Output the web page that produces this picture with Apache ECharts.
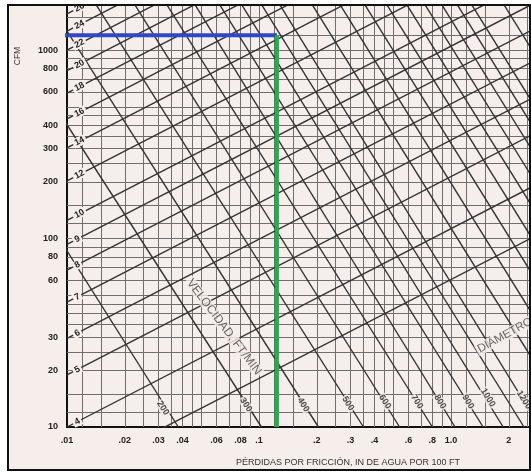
<!DOCTYPE html>
<html><head><meta charset="utf-8">
<script src="https://cdn.jsdelivr.net/npm/echarts@6/dist/echarts.min.js"></script>
<style>html,body{margin:0;padding:0;background:#fff}#c{width:531px;height:472px}</style>
</head><body><div id="c"></div>
<script>
// ---- axis ticks / labels ----
const xTickValues = [0.01,0.02,0.03,0.04,0.06,0.08,0.1,0.2,0.3,0.4,0.6,0.8,1,2];
const xTickLabels = ['.01','.02','.03','.04','.06','.08','.1','.2','.3','.4','.6','.8','1.0','2'];
const yTickValues = [10,20,30,60,80,100,200,300,400,600,800,1000];
const yTickLabels = ['10','20','30','60','80','100','200','300','400','600','800','1000'];
const X_MIN = 0.01, X_MAX = 2.58, Y_MIN = 10, Y_MAX = 1734;

// ---- background grid lines ----
const xGrid = [0.012,0.015,0.02,0.025,0.03,0.035,0.04,0.045,0.05,0.06,0.07,0.08,0.09,0.1,0.12,0.15,0.2,0.25,0.3,0.35,0.4,0.45,0.5,0.6,0.7,0.8,0.9,1,1.2,1.5,2,2.5];
const yGrid = [12,15,20,25,30,35,40,45,50,60,70,80,90,100,120,150,200,250,300,350,400,450,500,600,700,800,900,1000,1200,1500];

// ---- diameter lines (in): CFM read at loss 0.01 and at loss 3.0 ----
const diameters      = [3, 4, 5, 6, 7, 8, 9, 10, 12, 14, 16, 18, 20, 22, 24, 26, 28];
const diamLossLeft   = 0.01;
const diamLossRight  = 3.0;
const diamCfmLeft    = [5.4, 10, 18.9, 29.5, 46, 68, 93, 125, 202, 303, 431, 590, 778, 1000, 1260, 1557, 1894];
const diamCfmRight   = [108, 201, 380, 593, 924, 1366, 1868, 2511, 4058, 6087, 8659, 11853, 15630, 20090, 25313, 31280, 38050];

// ---- velocity lines (ft/min): loss read at 2000 CFM and at 10 CFM ----
const velocities     = [200, 300, 400, 500, 600, 700, 800, 900, 1000, 1100, 1200, 1400, 1600, 1800, 2000, 2200, 2400, 2600, 2800, 3000, 3500, 4000];
const velCfmTop      = 2000;
const velCfmBottom   = 10;
const velLossTop     = [0.00142, 0.00363, 0.0075, 0.013, 0.0207, 0.0304, 0.0427, 0.0573, 0.0747, 0.0948, 0.118, 0.174, 0.243, 0.327, 0.426, 0.541, 0.673, 0.823, 0.991, 1.178, 1.734, 2.425];
const velLossBottom  = [0.038, 0.103, 0.204, 0.35, 0.54, 0.80, 1.05, 1.47, 1.87, 2.40, 2.9, 4.40, 6.16, 8.28, 10.78, 13.70, 17.04, 20.83, 25.09, 29.83, 43.9, 61.4];

// ---- velocity labels near the bottom ----
const velLabelText   = ['200','300','400','500','600','700','800','900','1000','1200'];
const velLabelLoss   = [0.0316, 0.0855, 0.170, 0.291, 0.453, 0.665, 0.877, 1.226, 1.56, 2.40];
const velLabelCfm    = [12.6, 13.1, 13.1, 13.3, 13.6, 13.6, 13.6, 13.6, 14.3, 13.9];

// ---- selection lines ----
const selCfm = 1200;
const selLoss = 0.124;
const selLossStart = 0.0095;

const PAPER = '#f6eeea';
const FONT = 'Liberation Sans, Arial, sans-serif';

function fmt(values, labels) {
  return function (v) {
    let best = 0, bd = Infinity;
    for (let i = 0; i < values.length; i++) {
      const d = Math.abs(Math.log(v) - Math.log(values[i]));
      if (d < bd) { bd = d; best = i; }
    }
    return labels[best];
  };
}

const chart = echarts.init(document.getElementById('c'), null, {renderer: 'canvas'});
chart.setOption({
  backgroundColor: '#ffffff',
  animation: false,
  grid: {left: 67, right: 1, top: 5, bottom: 45, containLabel: false},
  xAxis: {
    type: 'log', logBase: 10, min: X_MIN, max: X_MAX,
    axisLine: {show: true, onZero: false, lineStyle: {color: '#111', width: 2}},
    axisTick: {show: false},
    splitLine: {show: false},
    axisLabel: {customValues: xTickValues, formatter: fmt(xTickValues, xTickLabels),
      margin: 9, fontSize: 9, fontWeight: 'bold', color: '#222', fontFamily: FONT}
  },
  yAxis: {
    type: 'log', logBase: 10, min: Y_MIN, max: Y_MAX,
    axisLine: {show: true, onZero: false, lineStyle: {color: '#111', width: 2}},
    axisTick: {show: false},
    splitLine: {show: false},
    axisLabel: {customValues: yTickValues, formatter: fmt(yTickValues, yTickLabels),
      margin: 9, fontSize: 9, fontWeight: 'bold', color: '#222', fontFamily: FONT}
  },
  graphic: [
    {type: 'rect', z: -10, shape: {x: 8, y: 5, width: 522, height: 465}, style: {fill: PAPER}},
    {type: 'rect', z: 100, shape: {x: 8, y: 5, width: 522, height: 465}, style: {fill: 'none', stroke: '#111', lineWidth: 2}},
    {type: 'text', z: 100, x: 18, y: 56, rotation: Math.PI / 2,
      style: {text: 'CFM', fill: '#333', font: '8.5px ' + FONT, align: 'center', verticalAlign: 'middle'}},
    {type: 'text', z: 100, x: 348, y: 463,
      style: {text: 'PÉRDIDAS POR FRICCIÓN, IN DE AGUA POR 100 FT', fill: '#333', font: '9px ' + FONT, align: 'center', verticalAlign: 'middle'}}
  ],
  series: [
    {
      type: 'lines', coordinateSystem: 'cartesian2d', silent: true, z: 1, clip: true,
      lineStyle: {color: '#6e6e6e', width: 1, opacity: 1},
      data: xGrid.map(v => ({coords: [[v, Y_MIN], [v, Y_MAX]]}))
        .concat(yGrid.map(v => ({coords: [[X_MIN, v], [X_MAX, v]]})))
    },
    {
      type: 'lines', coordinateSystem: 'cartesian2d', silent: true, z: 3, clip: true,
      lineStyle: {color: '#333', width: 1.4, opacity: 1},
      label: {show: true, position: 'insideStart', formatter: '{b}', distance: 7,
        fontSize: 9, fontWeight: 'bold', color: '#222', fontFamily: FONT,
        backgroundColor: PAPER, padding: [0, 2]},
      data: diameters.map((d, i) => ({name: String(d),
        coords: [[diamLossLeft, diamCfmLeft[i]], [diamLossRight, diamCfmRight[i]]]}))
    },
    {
      type: 'lines', coordinateSystem: 'cartesian2d', silent: true, z: 3, clip: true,
      lineStyle: {color: '#333', width: 1.4, opacity: 1},
      data: velocities.map((v, i) => ({name: String(v),
        coords: [[velLossTop[i], velCfmTop], [velLossBottom[i], velCfmBottom]]}))
    },
    {
      type: 'scatter', z: 5, silent: true, symbolSize: 0,
      label: {show: true, position: 'inside', formatter: '{b}', rotate: -58,
        fontSize: 9, fontWeight: 'bold', color: '#222', fontFamily: FONT,
        backgroundColor: PAPER, padding: [0, 1]},
      data: velLabelText.map((t, i) => ({name: t, value: [velLabelLoss[i], velLabelCfm[i]]}))
    },
    {
      type: 'scatter', z: 5, silent: true, symbolSize: 0, clip: false,
      label: {show: true, position: 'inside', formatter: '{b}',
        fontSize: 12, color: '#444', fontFamily: FONT, backgroundColor: PAPER, padding: [0, 2]},
      data: [
        {name: 'VELOCIDAD, FT/MIN', value: [0.0657, 33.9], label: {rotate: -53}},
        {name: 'DIÁMETRO, IN', value: [2.1, 32.3], label: {rotate: 29, fontSize: 11.5}}
      ]
    },
    {
      type: 'line', z: 10, clip: false, symbol: 'none', silent: true,
      lineStyle: {color: '#3146c8', width: 4},
      data: [[selLossStart, selCfm], [selLoss, selCfm]]
    },
    {
      type: 'line', z: 10, clip: false, symbol: 'none', silent: true,
      lineStyle: {color: '#1fb04b', width: 4},
      data: [[selLoss, selCfm], [selLoss, Y_MIN]]
    }
  ]
});
</script>
</body></html>
